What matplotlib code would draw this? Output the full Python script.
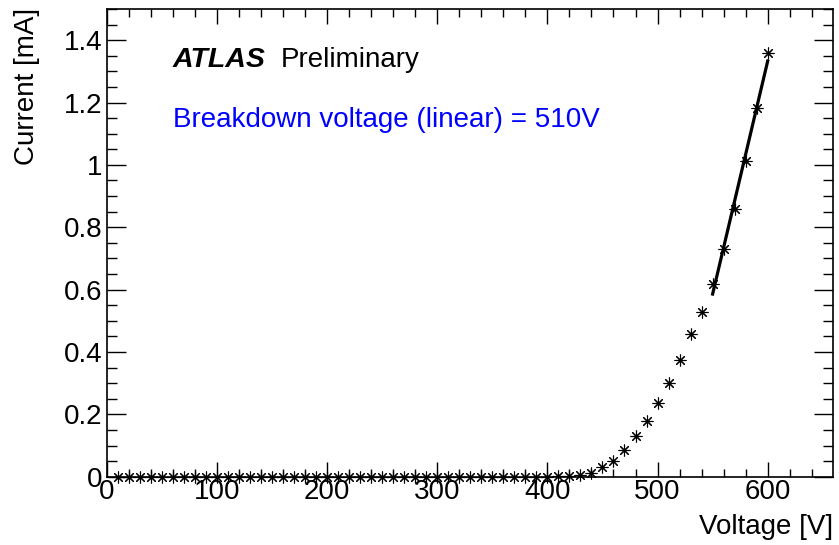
import numpy as np
import matplotlib
matplotlib.use("Agg")
import matplotlib.pyplot as plt
from matplotlib.ticker import MultipleLocator

plt.rcParams["font.family"] = ["Liberation Sans", "DejaVu Sans"]

# Leakage current scan: bias voltage [V] and measured current [mA]
voltage = np.arange(10, 601, 10)
current_low = [0.0] * 40  # 10 V .. 400 V
current_high = [0.001, 0.003, 0.006, 0.012, 0.030, 0.051, 0.086, 0.129, 0.179,
                0.236, 0.302, 0.374, 0.457, 0.528, 0.617, 0.729, 0.857, 1.011,
                1.183, 1.360]
current = np.array(current_low + current_high)

# Linear fit range used for the breakdown estimate
fit_lo, fit_hi = 550, 600

fig = plt.figure(figsize=(8.39, 5.45), dpi=100)
ax = fig.add_axes([106.7 / 839, 1 - 476.7 / 545, (832.7 - 106.7) / 839, (476.7 - 9) / 545])

ax.plot(voltage, current, linestyle="none", marker=(8, 2, 0), markersize=8.5,
        markeredgewidth=0.8, color="black", clip_on=False, zorder=3)

sel = (voltage >= fit_lo) & (voltage <= fit_hi)
slope, intercept = np.polyfit(voltage[sel], current[sel], 1)
xf = np.array([fit_lo, fit_hi])
ax.plot(xf, slope * xf + intercept, color="black", linewidth=2.3, zorder=4)
breakdown = -intercept / slope

ax.set_xlim(0, 659)
ax.set_ylim(0, 1.5)
ax.xaxis.set_major_locator(MultipleLocator(100))
ax.xaxis.set_minor_locator(MultipleLocator(20))
ax.yaxis.set_major_locator(MultipleLocator(0.2))
ax.yaxis.set_minor_locator(MultipleLocator(0.05))

def fmt(v, pos):
    s = f"{v:.1f}"
    if s.endswith(".0"):
        s = s[:-2]
    return s

ax.yaxis.set_major_formatter(plt.FuncFormatter(fmt))
ax.xaxis.set_major_formatter(plt.FuncFormatter(lambda v, p: f"{int(round(v))}"))

fs = 20
ax.tick_params(which="both", direction="in", top=True, right=True, width=1.0,
               labelsize=fs, color="black")
ax.tick_params(axis="x", which="major", length=11, pad=2)
ax.tick_params(axis="x", which="minor", length=5.5)
ax.tick_params(axis="y", which="major", length=14, pad=3)
ax.tick_params(axis="y", which="minor", length=7)
for sp in ax.spines.values():
    sp.set_linewidth(1.2)

fig.text(832.7 / 839, 1 - 534 / 545, "Voltage [V]", ha="right", va="baseline", fontsize=fs)
fig.text(27 / 839, 1 - 8 / 545, "Current [mA]", rotation=90, ha="center", va="top", fontsize=fs)

fig.text(173 / 839, 1 - 67 / 545, "ATLAS", fontsize=20.5, fontweight="bold",
         fontstyle="italic", ha="left", va="baseline")
fig.text(281 / 839, 1 - 67 / 545, "Preliminary", fontsize=fs, ha="left", va="baseline")
fig.text(173 / 839, 1 - 127 / 545,
         f"Breakdown voltage (linear) = {int(round(breakdown, -1))}V",
         fontsize=fs, color="#0000ff", ha="left", va="baseline")

fig.savefig("out.png", dpi=100)
